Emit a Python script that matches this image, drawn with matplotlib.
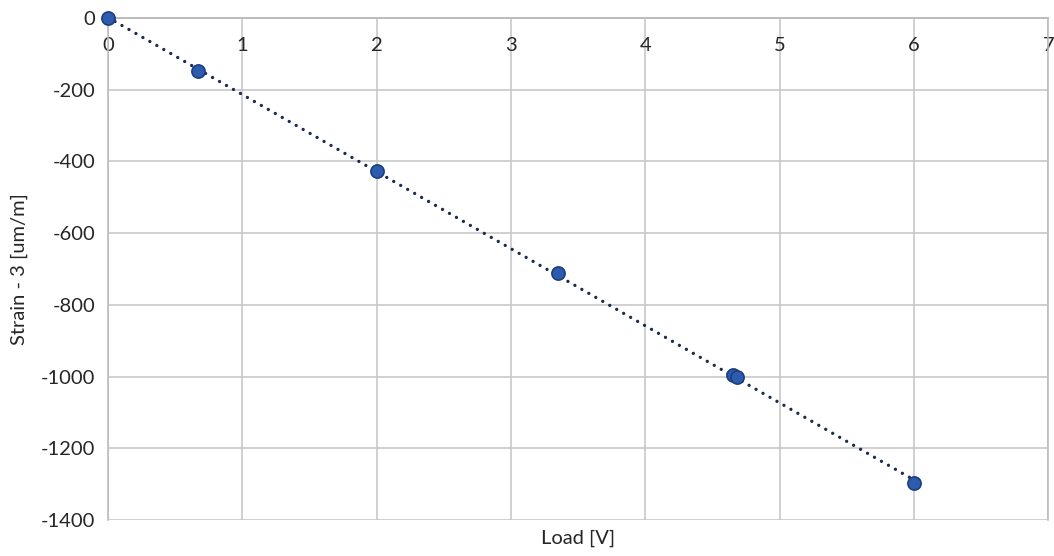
import numpy as np
from matplotlib import pyplot as plt

# Measured load vs strain values
load = [0, 0.67, 2.0, 3.35, 4.65, 4.68, 6.0]
strain = [0, -148, -427, -711, -995, -1000, -1298]
x_ticks = [0, 1, 2, 3, 4, 5, 6, 7]
y_ticks = [0, -200, -400, -600, -800, -1000, -1200, -1400]

plt.rcParams['font.family'] = ['Lato', 'DejaVu Sans']
plt.rcParams['axes.unicode_minus'] = False

fig = plt.figure(figsize=(10.54, 5.56), dpi=100)
ax = fig.add_axes([0.1025, 0.0647, 0.892, 0.903])

#Linear trendline across the data range
coef = np.polyfit(load, strain, 1)
xs = np.array([min(load), max(load)])
ax.plot(xs, np.polyval(coef, xs), linestyle=(0, (0.01, 2.4)), color='#1c2a4f',
        linewidth=2.4, dash_capstyle='round', zorder=3)

ax.plot(load, strain, 'o', markersize=9.5, markerfacecolor='#2d5bad',
        markeredgecolor='#1d3f80', markeredgewidth=1.2, zorder=4, clip_on=False)

ax.set_xlim(0, 7)
ax.set_ylim(-1400, 0)
ax.set_xticks(x_ticks)
ax.set_yticks(y_ticks)

#Grid and frame in light gray
ax.grid(True, color='#c8c8c8', linewidth=1.2)
ax.set_axisbelow(True)
for s in ax.spines.values():
    s.set_color('#bcbcbc')
    s.set_linewidth(1.2)
ax.spines['bottom'].set_position(('data', 0))

ax.tick_params(axis='both', length=0, labelsize=14.5, colors='#262626')
ax.tick_params(axis='x', pad=14)
ax.tick_params(axis='y', pad=9)

ax.set_xlabel('Load [V]', fontsize=14.5, color='#262626')
ax.xaxis.set_label_coords(0.5, -0.02)
ax.set_ylabel('Strain - 3 [um/m]', fontsize=14.5, color='#262626')
ax.yaxis.set_label_coords(-0.085, 0.5)

plt.savefig('out.png', dpi=100)
